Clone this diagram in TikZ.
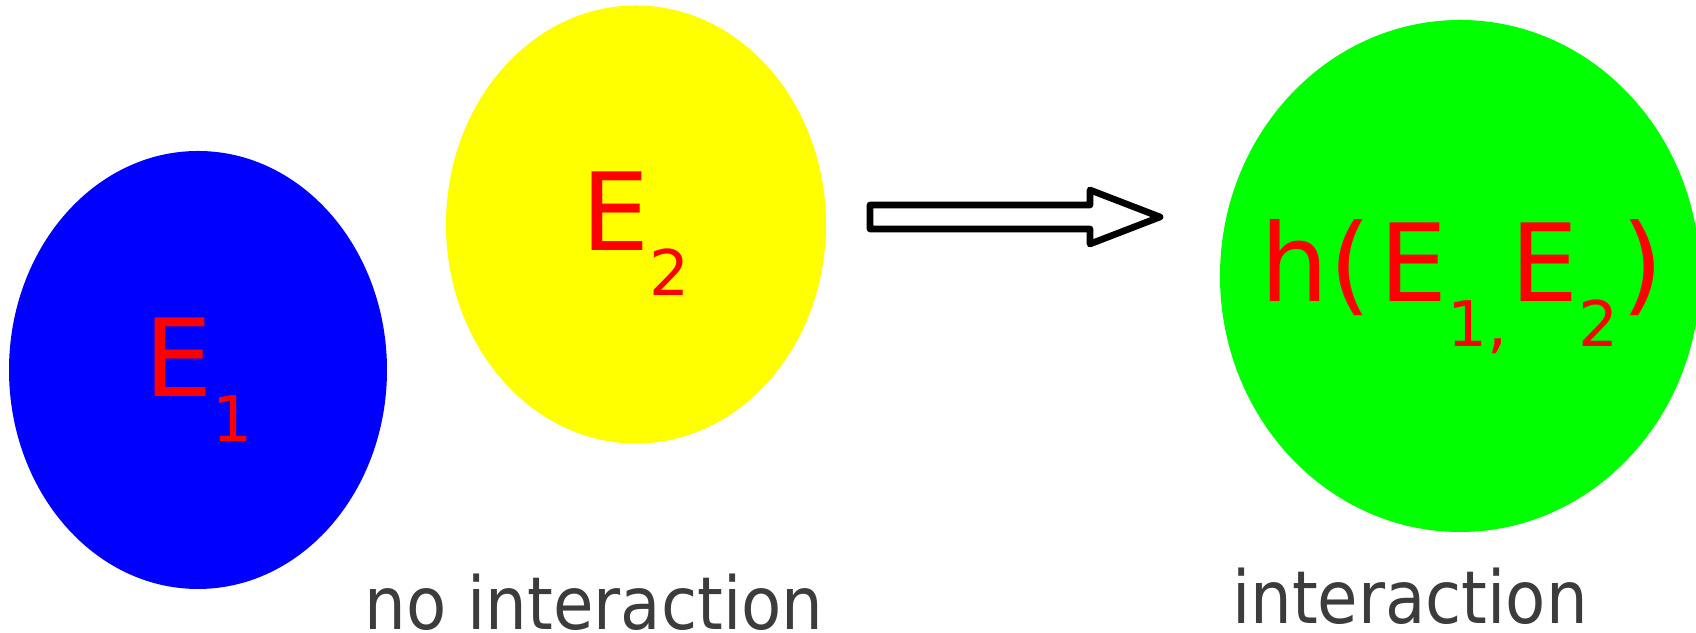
\documentclass[tikz,border=0pt]{standalone}
\usepackage{fontspec}
\setmainfont{DejaVu Sans}
\newfontfamily\labelfont[FakeStretch=0.9]{DejaVu Sans}
\usetikzlibrary{shapes.geometric}

\definecolor{textgray}{HTML}{3C3C3C}
\definecolor{partone}{RGB}{0,0,255}
\definecolor{parttwo}{RGB}{255,255,0}
\definecolor{whole}{RGB}{0,255,0}
\definecolor{symred}{RGB}{255,0,0}
\newcommand{\bigtext}{\fontsize{30.7}{36}\selectfont}
\newcommand{\lowsub}[1]{\raisebox{-0.45cm}{\fontsize{17.9}{20}\selectfont #1}}

\begin{document}
\begin{tikzpicture}[
    blob/.style={ellipse, inner sep=0pt},
    symbol/.style={text=symred, anchor=base west, inner sep=0pt, font=\bigtext},
    caption/.style={text=textgray, anchor=base, inner sep=0pt, font={\labelfont\fontsize{20.8}{24}\selectfont}}]
    \useasboundingbox (0,0) rectangle (16.96,6.33);
    % the two parts, and what they give together
    \node[blob, fill=partone, minimum width=3.78cm, minimum height=4.38cm] (E1) at (1.98,2.63) {};
    \node[blob, fill=parttwo, minimum width=3.80cm, minimum height=4.38cm] (E2) at (6.36,4.085) {};
    \node[blob, fill=whole, minimum width=4.80cm, minimum height=5.12cm] (H) at (14.60,3.57) {};
    \node[symbol] (E1text) at (1.44,2.36) {E\lowsub{1}};
    \node[symbol] (E2text) at (5.81,3.82) {E\lowsub{2}};
    \node[symbol] (Htext) at (12.60,3.31) {h(\kern0.08cm E\lowsub{1,\kern0.03cm}E\lowsub{2}\kern0.03cm)};
    % block arrow
    \draw[line width=1.9pt, line join=round, fill=white] (8.70,4.28) -- (10.90,4.28) -- (10.90,4.43) -- (11.60,4.16) -- (10.90,3.89) -- (10.90,4.04) -- (8.70,4.04) -- cycle;
    \node[caption] (left) at (5.94,0.03) {no interaction};
    \node[caption] (right) at (14.10,0.09) {interaction};
\end{tikzpicture}
\end{document}
